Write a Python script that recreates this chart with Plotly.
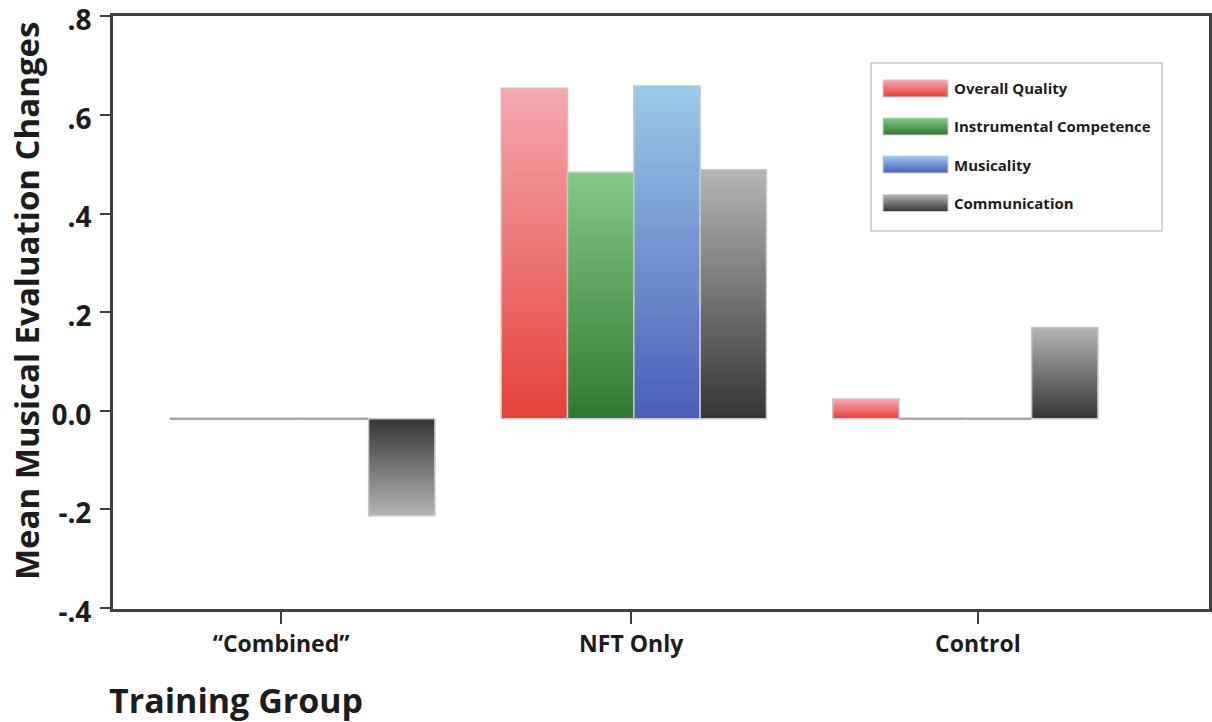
import plotly.graph_objects as go

# ---- data ---------------------------------------------------------------
groups = ["\u201cCombined\u201d", "NFT Only", "Control"]
series = ["Overall Quality", "Instrumental Competence", "Musicality", "Communication"]

# change in mean evaluation per training group (bar heights above the zero line)
overall_quality = [0.0, 0.67, 0.04]
instrumental_competence = [0.0, 0.50, 0.0]
musicality = [0.0, 0.675, 0.0]
communication = [-0.197, 0.505, 0.185]

y_tickvals = [-0.4, -0.2, 0.0, 0.2, 0.4, 0.6, 0.8]
y_ticktext = ["-.4", "-.2", "0.0", ".2", ".4", ".6", ".8"]

# ---- styling ------------------------------------------------------------
FONT = "Open Sans"
TEXT = "#1c1c1c"
AXIS = "#404040"
# (colour at the zero line, colour at the bar end)
gradients = [
    ("#E5413A", "#F5A8B0"),
    ("#2F7A30", "#84C98A"),
    ("#4A5DB8", "#9CCAE8"),
    ("#353535", "#B5B5B5"),
]
zero_line = -0.016      # bars are drawn from this level
bar_w = 0.2             # width of one bar in category units
group_pos = [0, 1, 2]
tick_pos = [-0.064, 0.992, 2.038]

values = [overall_quality, instrumental_competence, musicality, communication]

fig = go.Figure()

for si, (name, vals, (dark, light)) in enumerate(zip(series, values, gradients)):
    for gi, v in enumerate(vals):
        x0 = group_pos[gi] + (si - 2) * bar_w
        x1 = x0 + bar_w
        y0 = zero_line
        y1 = zero_line + v
        tr = dict(
            x=[x0, x1, x1, x0, x0],
            y=[y0, y0, y1, y1, y0],
            mode="lines",
            showlegend=False,
            hoverinfo="skip",
            name=name,
        )
        if v != 0:
            tr.update(
                fill="toself",
                fillgradient=dict(
                    type="vertical",
                    colorscale=[[0, dark], [1, light]],
                    start=y0,
                    stop=y1,
                ),
                line=dict(color="#c6c6c6", width=1.5),
            )
        else:
            tr.update(line=dict(color="#a8a8a8", width=2.5))
        fig.add_trace(go.Scatter(**tr))

# ---- legend (drawn on an overlay axis in paper units) --------------------
PLOT_L, PLOT_R, PLOT_T, PLOT_B = 113, 1209, 16, 609
W, H = PLOT_R - PLOT_L, PLOT_B - PLOT_T


def px_x(p):
    return (p - PLOT_L) / W


def px_y(p):
    return (PLOT_B - p) / H


row_centers = [88.5, 126.5, 164.5, 203]
sw_l, sw_r, sw_h = 883, 948, 17
for (name, (dark, light), yc) in zip(series, gradients, row_centers):
    yb, yt = px_y(yc + sw_h / 2), px_y(yc - sw_h / 2)
    xl, xr = px_x(sw_l), px_x(sw_r)
    fig.add_trace(go.Scatter(
        x=[xl, xr, xr, xl, xl], y=[yb, yb, yt, yt, yb],
        xaxis="x2", yaxis="y2", mode="lines", fill="toself",
        fillgradient=dict(type="vertical", colorscale=[[0, dark], [1, light]],
                          start=yb, stop=yt),
        line=dict(color="#d0d0d0", width=1), showlegend=False, hoverinfo="skip",
    ))
    fig.add_annotation(
        x=px_x(952), y=px_y(yc), xref="paper", yref="paper",
        text=name, showarrow=False, xanchor="left", yanchor="middle",
        font=dict(family=FONT, size=15, color=TEXT, weight=700),
    )

fig.add_shape(
    type="rect", xref="paper", yref="paper",
    x0=px_x(871), x1=px_x(1162), y0=px_y(231), y1=px_y(63),
    line=dict(color="#c8c8c8", width=1.5), fillcolor="white", layer="below",
)

# axis titles
fig.add_annotation(
    x=px_x(107), y=px_y(700), xref="paper", yref="paper",
    text="Training Group", showarrow=False, xanchor="left", yanchor="middle",
    font=dict(family=FONT, size=34, color=TEXT, weight=700),
)
fig.add_annotation(
    x=px_x(26), y=px_y(301), xref="paper", yref="paper",
    text="Mean Musical Evaluation Changes", showarrow=False, textangle=-90,
    xanchor="center", yanchor="middle",
    font=dict(family=FONT, size=33, color=TEXT, weight=700),
)

fig.update_layout(
    width=1212, height=722,
    margin=dict(l=PLOT_L, r=1212 - PLOT_R, t=PLOT_T, b=722 - PLOT_B),
    paper_bgcolor="white", plot_bgcolor="white",
    showlegend=False,
    font=dict(family=FONT, color=TEXT),
    xaxis=dict(
        range=[-0.571, 2.735], tickvals=tick_pos, ticktext=groups,
        automargin=False,
        showgrid=False, zeroline=False, showline=True, linecolor=AXIS,
        linewidth=3, mirror=True, ticks="outside", ticklen=12, tickwidth=2,
        tickcolor=AXIS, tickfont=dict(family=FONT, size=23, color=TEXT, weight=700),
    ),
    yaxis=dict(
        range=[-0.402, 0.8008], tickvals=y_tickvals, ticktext=y_ticktext,
        automargin=False,
        showgrid=False, zeroline=False, showline=True, linecolor=AXIS,
        linewidth=3, mirror=True, ticks="outside", ticklen=10, tickwidth=2,
        tickcolor=AXIS, ticklabelstandoff=3, ticklabeloverflow="allow",
        ticklabelshift=4,
        tickfont=dict(family=FONT, size=28, color=TEXT, weight=700),
    ),
    xaxis2=dict(range=[0, 1], overlaying="x", visible=False, fixedrange=True),
    yaxis2=dict(range=[0, 1], overlaying="y", visible=False, fixedrange=True),
)

fig.write_html("out.html")
